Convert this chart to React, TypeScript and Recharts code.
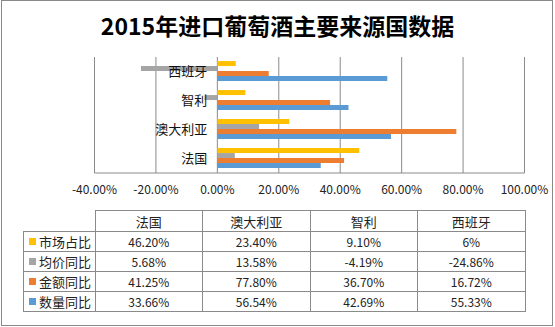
import { Bar, BarChart, CartesianGrid, XAxis, YAxis } from "recharts";

const categories = ["法国", "澳大利亚", "智利", "西班牙"];
const marketShare = [46.2, 23.4, 9.1, 6];
const avgPriceYoY = [5.68, 13.58, -4.19, -24.86];
const amountYoY = [41.25, 77.8, 36.7, 16.72];
const volumeYoY = [33.66, 56.54, 42.69, 55.33];
const xTicks = [-40, -20, 0, 20, 40, 60, 80, 100];

const series = [
  { key: "share", name: "市场占比", color: "#FFC000", values: marketShare },
  { key: "price", name: "均价同比", color: "#A5A5A5", values: avgPriceYoY },
  { key: "amount", name: "金额同比", color: "#ED7D31", values: amountYoY },
  { key: "volume", name: "数量同比", color: "#5B9BD5", values: volumeYoY }
];

const data = categories.map((name, i) => {
  const row: Record<string, string | number> = { name };
  series.forEach((s) => {
    row[s.key] = s.values[i];
  });
  return row;
});

const FONT = '"Noto Sans CJK SC", "Noto Sans", sans-serif';
const PLOT_LEFT = 94.5;
const PLOT_W = 430;
const X_MIN = -40;
const X_MAX = 100;
const zeroX = PLOT_LEFT + ((0 - X_MIN) / (X_MAX - X_MIN)) * PLOT_W;
const GRID = "#8a8a8a";

const pct = (v: number) => `${v.toFixed(2)}%`;
const cellPct = (v: number) => (Number.isInteger(v) ? `${v}%` : pct(v));

const renderCategoryTick = (props: any) => (
  <text
    key={props.payload.value}
    x={zeroX - 10}
    y={props.y}
    dy="0.36em"
    textAnchor="end"
    fontSize={13}
    fontFamily={FONT}
    fill="#111"
  >
    {props.payload.value}
  </text>
);

const colW = PLOT_W / categories.length;

const cellBase: React.CSSProperties = {
  position: "absolute",
  boxSizing: "border-box",
  display: "flex",
  alignItems: "center",
  justifyContent: "center",
  fontFamily: FONT,
  color: "#222"
};

const DataTable = () => {
  const top = 210;
  const headH = 21;
  const rowH = 20;
  const legendLeft = 23;
  const cells: JSX.Element[] = [];
  categories.forEach((c, j) => {
    cells.push(
      <div
        key={`h${j}`}
        style={{
          ...cellBase,
          left: PLOT_LEFT + j * colW,
          top,
          width: colW + 1,
          height: headH + 1,
          border: `1px solid ${GRID}`,
          fontSize: 13
        }}
      >
        {c}
      </div>
    );
  });
  series.forEach((s, i) => {
    const y = top + headH + i * rowH;
    cells.push(
      <div
        key={`l${i}`}
        style={{
          ...cellBase,
          left: legendLeft,
          top: y,
          width: PLOT_LEFT - legendLeft + 1,
          height: rowH + 1,
          border: `1px solid ${GRID}`,
          justifyContent: "flex-start",
          paddingLeft: 5,
          fontSize: 13
        }}
      >
        <span
          style={{
            display: "inline-block",
            width: 7,
            height: 7,
            background: s.color,
            marginRight: 3
          }}
        />
        {s.name}
      </div>
    );
    s.values.forEach((v, j) => {
      cells.push(
        <div
          key={`c${i}-${j}`}
          style={{
            ...cellBase,
            left: PLOT_LEFT + j * colW,
            top: y,
            width: colW + 1,
            height: rowH + 1,
            border: `1px solid ${GRID}`,
            fontSize: 12
          }}
        >
          {cellPct(v)}
        </div>
      );
    });
  });
  return <>{cells}</>;
};

export default function App() {
  return (
    <div
      style={{
        position: "fixed",
        left: 0,
        top: 0,
        width: 555,
        height: 327,
        background: "#fff",
        fontFamily: FONT
      }}
    >
      <div
        style={{
          position: "absolute",
          left: 1,
          top: 0,
          width: 552,
          height: 326,
          boxSizing: "border-box",
          border: `1px solid ${GRID}`
        }}
      />
      <div
        style={{
          position: "absolute",
          left: 0,
          top: 9,
          width: 555,
          textAlign: "center",
          fontSize: 23,
          fontWeight: 700,
          color: "#000",
          lineHeight: "32px"
        }}
      >
        2015年进口葡萄酒主要来源国数据
      </div>
      <div style={{ position: "absolute", left: 0, top: 0 }}>
        <BarChart
          width={555}
          height={200}
          data={data}
          layout="vertical"
          margin={{ top: 57, right: 555 - PLOT_LEFT - PLOT_W, bottom: 7, left: 0 }}
          barCategoryGap="14%"
          barGap={0}
        >
          <CartesianGrid stroke={GRID} horizontal={false} vertical />
          {series.map((s) => (
            <Bar
              key={s.key}
              dataKey={s.key}
              name={s.name}
              fill={s.color}
              isAnimationActive={false}
            />
          ))}
          <XAxis
            type="number"
            domain={[X_MIN, X_MAX]}
            ticks={xTicks}
            tickFormatter={pct}
            height={20}
            axisLine={{ stroke: GRID }}
            tickLine={false}
            tickSize={0}
            tickMargin={12}
            interval={0}
            tick={{ fill: "#222", fontSize: 12, fontFamily: FONT }}
          />
          <YAxis
            type="category"
            dataKey="name"
            reversed
            width={PLOT_LEFT}
            axisLine={false}
            tickLine={false}
            tick={renderCategoryTick}
            interval={0}
          />
        </BarChart>
      </div>
      <DataTable />
    </div>
  );
}
